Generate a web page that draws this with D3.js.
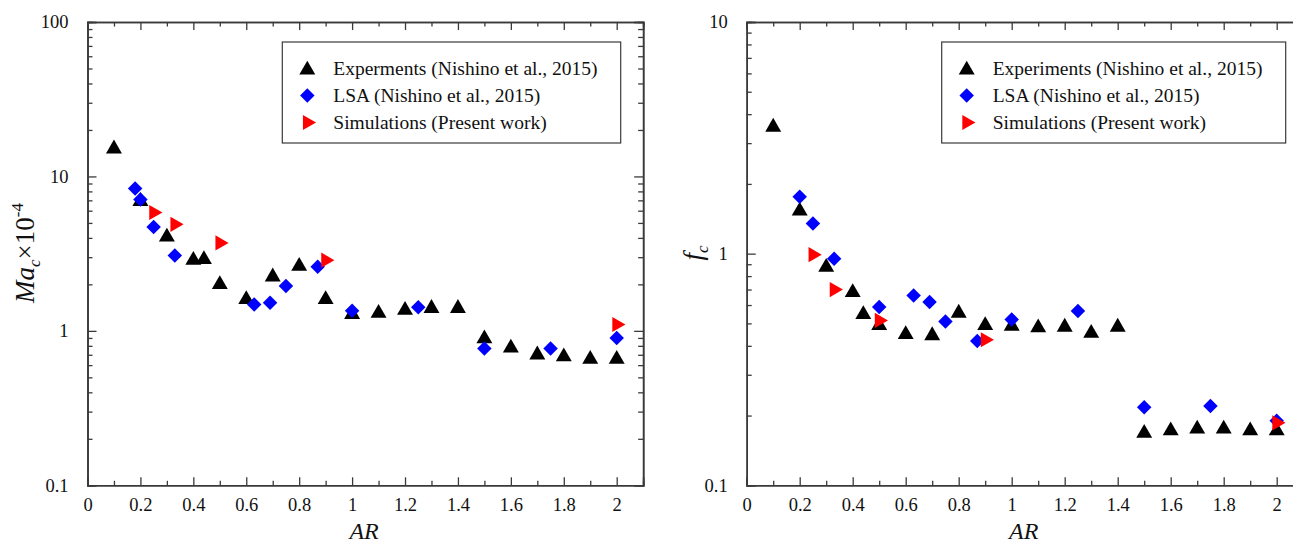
<!DOCTYPE html>
<html lang="en">
<head>
<meta charset="utf-8">
<title>critical Ma and f vs AR</title>
<script src="https://cdn.jsdelivr.net/npm/d3@7"></script>
<style>
  body { margin: 0; background: #fff; }
  svg text { font-family: "Liberation Serif", "DejaVu Serif", "Noto Serif", serif; }
</style>
</head>
<body>
<div id="chart"></div>
<script>
// ---- data ----
var xTicks = [0, 0.2, 0.4, 0.6, 0.8, 1, 1.2, 1.4, 1.6, 1.8, 2]
var legendLeft = ["Experments (Nishino et al., 2015)", "LSA (Nishino et al., 2015)", "Simulations (Present work)"]
var legendRight = ["Experiments (Nishino et al., 2015)", "LSA (Nishino et al., 2015)", "Simulations (Present work)"]

// left panel: Ma_c x 10^-4
var leftExpAR = [0.1, 0.2, 0.3, 0.4, 0.44, 0.5, 0.6, 0.7, 0.8, 0.9, 1.0, 1.1, 1.2, 1.3, 1.4, 1.5, 1.6, 1.7, 1.8, 1.9, 2.0]
var leftExpMa = [15.1, 6.9, 4.06, 2.87, 2.9, 2.0, 1.6, 2.24, 2.62, 1.6, 1.28, 1.3, 1.36, 1.4, 1.4, 0.89, 0.776, 0.70, 0.68, 0.656, 0.656]
var leftLsaAR = [0.18, 0.2, 0.25, 0.33, 0.63, 0.69, 0.75, 0.87, 1.0, 1.25, 1.5, 1.75, 2.0]
var leftLsaMa = [8.35, 7.1, 4.71, 3.08, 1.48, 1.52, 1.95, 2.6, 1.35, 1.42, 0.77, 0.77, 0.90]
var leftSimAR = [0.25, 0.33, 0.5, 0.9, 2.0]
var leftSimMa = [5.84, 4.9, 3.71, 2.87, 1.1]
var leftYTicks = [0.1, 1, 10, 100]

// right panel: f_c
var rightExpAR = [0.1, 0.2, 0.3, 0.4, 0.44, 0.5, 0.6, 0.7, 0.8, 0.9, 1.0, 1.1, 1.2, 1.3, 1.4, 1.5, 1.6, 1.7, 1.8, 1.9, 2.0]
var rightExpF = [3.52, 1.53, 0.875, 0.68, 0.547, 0.49, 0.448, 0.443, 0.554, 0.49, 0.487, 0.479, 0.482, 0.454, 0.482, 0.168, 0.172, 0.175, 0.175, 0.172, 0.172]
var rightLsaAR = [0.2, 0.25, 0.33, 0.5, 0.63, 0.69, 0.75, 0.87, 1.0, 1.25, 1.5, 1.75, 2.0]
var rightLsaF = [1.76, 1.35, 0.95, 0.588, 0.66, 0.618, 0.51, 0.42, 0.52, 0.565, 0.217, 0.22, 0.19]
var rightSimAR = [0.25, 0.33, 0.5, 0.9, 2.0]
var rightSimF = [0.99, 0.70, 0.515, 0.425, 0.186]
var rightYTicks = [0.1, 1, 10]

var W = 1293, H = 545
var axisColor = "#3a3a3a"
var serif = "'Liberation Serif', 'DejaVu Serif', 'Noto Serif', serif"

var svg = d3.select("#chart").append("svg")
  .attr("width", W).attr("height", H)

function zip(xs, ys) {
  return xs.map(function(x, i) { return {x: x, y: ys[i]} })
}

function minorLog(domain) {
  var out = []
  for (var e = Math.log10(domain[0]); e < Math.log10(domain[1]); e++) {
    for (var k = 2; k <= 9; k++) out.push(k * Math.pow(10, e))
  }
  return out
}

function fmtX(d) { return d3.format("~g")(d) }

function panel(cfg) {
  var x = d3.scaleLinear().domain([0, 2.1]).range([cfg.left, cfg.left + 2.1 * cfg.px02 / 0.2])
  var y = d3.scaleLog().domain(cfg.yDomain).range([485.3, 22])
  var g = svg.append("g")
  var bottom = y.range()[0], top = y.range()[1]
  var right = x.range()[1]
  var minorX = d3.range(0.1, 2.1, 0.2)

  // bottom axis with labels
  g.append("g").attr("transform", "translate(0," + bottom + ")")
    .call(d3.axisBottom(x).tickValues(xTicks).tickSize(-8).tickPadding(13).tickFormat(fmtX))
  g.append("g").attr("transform", "translate(0," + bottom + ")")
    .call(d3.axisBottom(x).tickValues(minorX).tickSize(-4.5).tickFormat(""))
  // top
  g.append("g").attr("transform", "translate(0," + top + ")")
    .call(d3.axisTop(x).tickValues(xTicks).tickSize(-8).tickFormat(""))
  g.append("g").attr("transform", "translate(0," + top + ")")
    .call(d3.axisTop(x).tickValues(minorX).tickSize(-4.5).tickFormat(""))
  // left with labels
  g.append("g").attr("transform", "translate(" + cfg.left + ",0)")
    .call(d3.axisLeft(y).tickValues(cfg.yTicks).tickSize(-9).tickPadding(19).tickFormat(d3.format("~g")))
  g.append("g").attr("transform", "translate(" + cfg.left + ",0)")
    .call(d3.axisLeft(y).tickValues(minorLog(cfg.yDomain)).tickSize(-5).tickFormat(""))
  // right
  g.append("g").attr("transform", "translate(" + right + ",0)")
    .call(d3.axisRight(y).tickValues(cfg.yTicks).tickSize(-9).tickFormat(""))
  g.append("g").attr("transform", "translate(" + right + ",0)")
    .call(d3.axisRight(y).tickValues(minorLog(cfg.yDomain)).tickSize(-5).tickFormat(""))

  g.selectAll("g").attr("font-family", serif)
  g.selectAll(".domain").attr("stroke", axisColor).attr("stroke-width", 1.6)
  g.selectAll(".tick line").attr("stroke", axisColor).attr("stroke-width", 1.3)
  g.selectAll(".tick text").attr("fill", "#111").attr("font-size", 18.5)

  // data
  var tri = d3.symbol().type(d3.symbolTriangle).size(110)
  var dia = d3.symbol().type(d3.symbolSquare).size(105)
  var rtri = d3.symbol().type(d3.symbolTriangle).size(100)

  g.selectAll(".exp").data(zip(cfg.expAR, cfg.expY)).enter().append("path")
    .attr("class", "exp").attr("d", tri).attr("fill", "#000")
    .attr("transform", function(d) { return "translate(" + x(d.x) + "," + y(d.y) + ")" })
  g.selectAll(".lsa").data(zip(cfg.lsaAR, cfg.lsaY)).enter().append("path")
    .attr("class", "lsa").attr("d", dia).attr("fill", "#0000ff")
    .attr("transform", function(d) { return "translate(" + x(d.x) + "," + y(d.y) + ") rotate(45)" })
  g.selectAll(".sim").data(zip(cfg.simAR, cfg.simY)).enter().append("path")
    .attr("class", "sim").attr("d", rtri).attr("fill", "#ff0000")
    .attr("transform", function(d) { return "translate(" + x(d.x) + "," + y(d.y) + ") rotate(90)" })

  // legend
  var lg = g.append("g")
  lg.append("rect").attr("x", cfg.legX).attr("y", 42).attr("width", cfg.legW).attr("height", 101)
    .attr("fill", "#fff").attr("stroke", axisColor).attr("stroke-width", 1.2)
  var shapes = [[tri, "#000", 0], [dia, "#0000ff", 45], [rtri, "#ff0000", 90]]
  cfg.legend.forEach(function(t, i) {
    var yy = 68.5 + i * 27
    lg.append("path").attr("d", shapes[i][0]).attr("fill", shapes[i][1])
      .attr("transform", "translate(" + (cfg.legX + 25) + "," + (yy + (i == 0 ? 1.5 : 0)) + ") rotate(" + shapes[i][2] + ")")
    lg.append("text").attr("x", cfg.legX + 51).attr("y", yy + 6.5)
      .attr("font-family", serif).attr("font-size", 19.5).attr("fill", "#111").text(t)
  })

  // x label
  g.append("text").attr("x", x(1.0) + 12).attr("y", 539).attr("text-anchor", "middle")
    .attr("font-family", serif).attr("font-size", 24).attr("font-style", "italic").attr("fill", "#111").text("AR")

  return g
}

var gl = panel({
  left: 87.5, px02: 52.92, yDomain: [0.1, 100], yTicks: leftYTicks,
  expAR: leftExpAR, expY: leftExpMa, lsaAR: leftLsaAR, lsaY: leftLsaMa, simAR: leftSimAR, simY: leftSimMa,
  legX: 282.3, legW: 338.4, legend: legendLeft
})
var gr = panel({
  left: 746.7, px02: 53, yDomain: [0.1, 10], yTicks: rightYTicks,
  expAR: rightExpAR, expY: rightExpF, lsaAR: rightLsaAR, lsaY: rightLsaF, simAR: rightSimAR, simY: rightSimF,
  legX: 941.7, legW: 344, legend: legendRight
})

// y labels
var yl = svg.append("text").attr("transform", "translate(34,253) rotate(-90)")
  .attr("text-anchor", "middle").attr("font-family", serif).attr("font-size", 27).attr("fill", "#111")
yl.append("tspan").attr("font-style", "italic").text("Ma")
yl.append("tspan").attr("font-style", "italic").attr("font-size", 17).attr("dy", 6).text("c")
yl.append("tspan").attr("dy", -6).text("\u00d710")
yl.append("tspan").attr("font-size", 17).attr("dy", -11).text("-4")

var yr = svg.append("text").attr("transform", "translate(702,253) rotate(-90)")
  .attr("text-anchor", "middle").attr("font-family", serif).attr("font-size", 27).attr("fill", "#111")
yr.append("tspan").attr("font-style", "italic").text("f")
yr.append("tspan").attr("font-style", "italic").attr("font-size", 17).attr("dy", 6).text("c")
</script>
</body>
</html>
